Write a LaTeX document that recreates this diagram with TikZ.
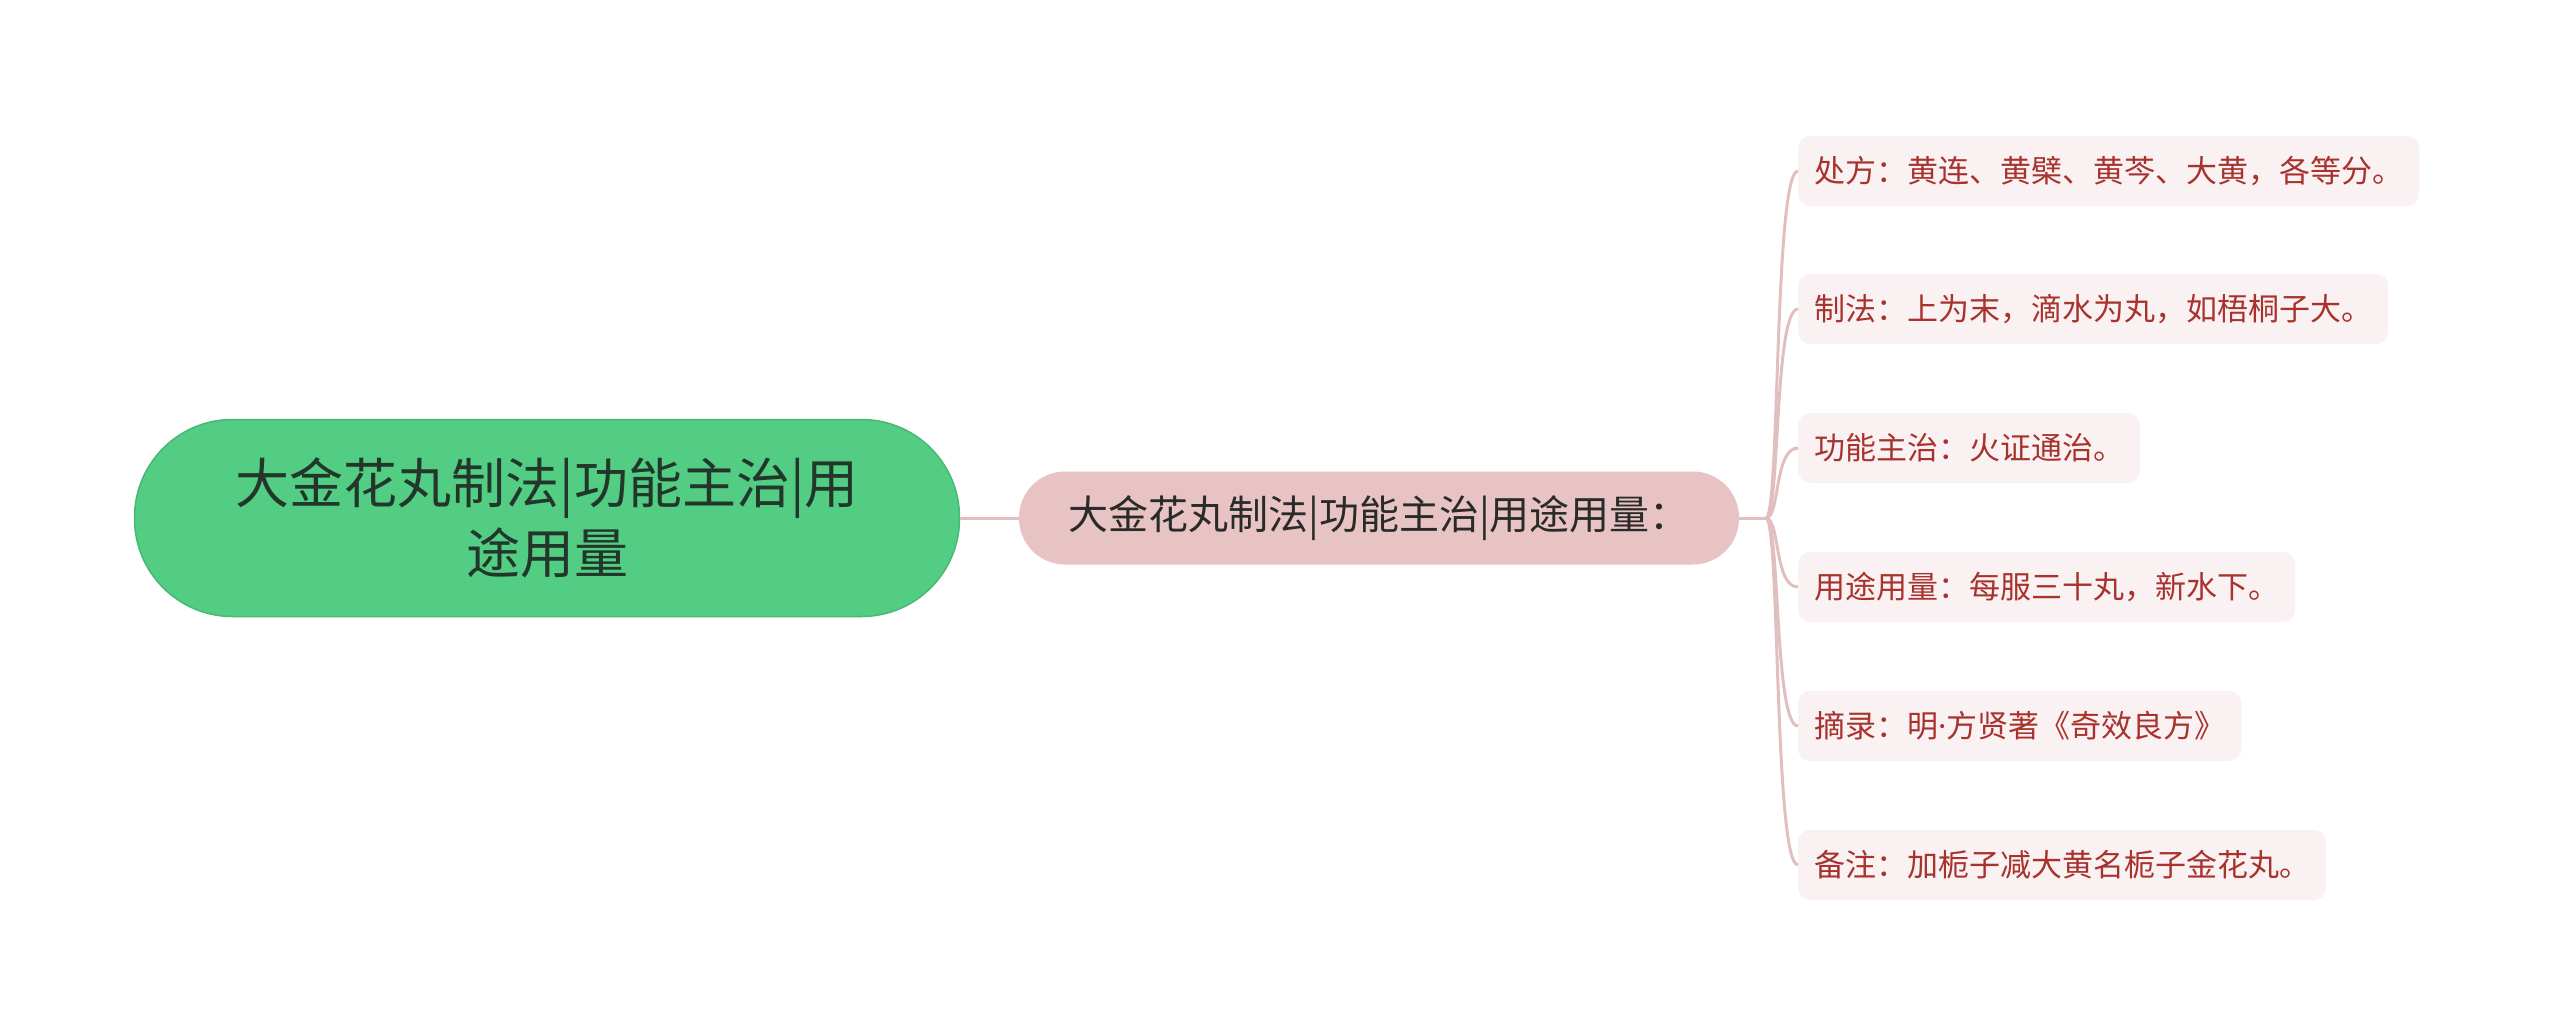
\documentclass[tikz,border=0pt]{standalone}
\usepackage{fontspec}
\setmainfont{Noto Sans CJK SC}
\newfontfamily\latinfont{Noto Sans}
\definecolor{rootgreen}{HTML}{52CD83}
\definecolor{rootedge}{HTML}{48B874}
\definecolor{roottext}{HTML}{22372A}
\definecolor{midfill}{HTML}{E7C3C3}
\definecolor{midtext}{HTML}{2A2A2A}
\definecolor{leaffill}{HTML}{FAF2F2}
\definecolor{leaftext}{HTML}{A8322D}
\definecolor{connc}{HTML}{E2BFBF}
\begin{document}
\begin{tikzpicture}[x=1pt,y=-1pt,
  rootbox/.style={fill=rootgreen,draw=rootedge,line width=1.5pt,rounded corners=98pt,
    minimum width=825pt,minimum height=197pt,inner sep=0pt,align=center,
    text=roottext,font=\fontsize{54}{70}\selectfont},
  midbox/.style={fill=midfill,draw=none,rounded corners=46pt,minimum width=720pt,
    minimum height=93pt,inner sep=0pt,text=midtext,font=\fontsize{40}{48}\selectfont},
  leafbox/.style={fill=leaffill,draw=none,rounded corners=12pt,anchor=west,
    minimum height=70pt,inner xsep=16pt,inner ysep=0pt,text=leaftext,
    font=\fontsize{31}{38}\selectfont},
  conn/.style={draw=connc,line width=3pt}]
\useasboundingbox (0,0) rectangle (2560,1036);
\node[rootbox] (root) at (547,518) {大金花丸制法|功能主治|用\\途用量};
\node[midbox] (mid) at (1379,518) {大金花丸制法|功能主治|用途用量：};
\coordinate (bp) at (1766,518);
\node[leafbox] (l1) at (1798,171) {处方：黄连、黄檗、黄芩、大黄，各等分。};
\node[leafbox] (l2) at (1798,309) {制法：上为末，滴水为丸，如梧桐子大。};
\node[leafbox] (l3) at (1798,448) {功能主治：火证通治。};
\node[leafbox] (l4) at (1798,587) {用途用量：每服三十丸，新水下。};
\node[leafbox] (l5) at (1798,726) {摘录：明{\latinfont ·}方贤著《奇效良方》};
\node[leafbox] (l6) at (1798,865) {备注：加栀子减大黄名栀子金花丸。};
\draw[conn] (root.east) -- (mid.west);
\draw[conn] (mid.east) -- (bp);
\foreach \n in {l1,l2,l3,l4,l5,l6}{
  \draw[conn] (bp) .. controls +(14,0) and +(-24,0) .. (\n.west);
}
\end{tikzpicture}
\end{document}
